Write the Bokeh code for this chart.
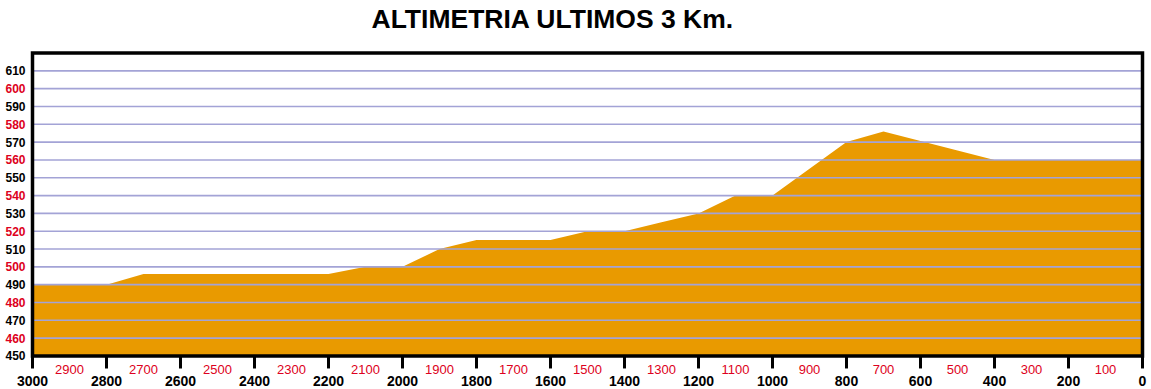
from bokeh.plotting import figure
from bokeh.models import Range1d
from bokeh.core.properties import value
from bokeh.embed import file_html
from bokeh.resources import INLINE

# distance to finish (m) and altitude (m)
dist = [3000, 2800, 2700, 2200, 2100, 2000, 1900, 1800, 1600, 1500, 1400, 1300, 1200, 1100, 1000, 800, 700, 400, 0]
alt = [490, 490, 496, 496, 500, 500, 510, 515, 515, 520, 520, 525, 530, 540, 540, 570, 576, 560, 560]

x_major_ticks = [3000, 2800, 2600, 2400, 2200, 2000, 1800, 1600, 1400, 1200, 1000, 800, 600, 400, 200, 0]
x_red_ticks = [2900, 2700, 2500, 2300, 2100, 1900, 1700, 1500, 1300, 1100, 900, 700, 500, 300, 100]
y_black_ticks = [450, 470, 490, 510, 530, 550, 570, 590, 610]
y_red_ticks = [460, 480, 500, 520, 540, 560, 580, 600]
y_grid_ticks = [460, 470, 480, 490, 500, 510, 520, 530, 540, 550, 560, 570, 580, 590, 600, 610]

TITLE = "ALTIMETRIA ULTIMOS 3 Km."
FONT = "Liberation Sans"
RED = "#dd0020"
ORANGE = "#E99A00"
GRID = "#a3a3d6"

X_MAX, X_MIN = 3000, 0
Y_MIN, Y_MAX = 450, 620

# --- layout (canvas pixels) ---
W, H = 1151, 389
FRAME_LEFT, FRAME_RIGHT = 0, W
FRAME_TOP, FRAME_BOTTOM = 39.5, H
CHART_L, CHART_R = 32.0, 1142.0
CHART_T, CHART_B = 53.0, 355.5

kx = (CHART_R - CHART_L) / (X_MAX - X_MIN)
ky = (CHART_B - CHART_T) / (Y_MAX - Y_MIN)
x_range = Range1d(X_MAX + (CHART_L - FRAME_LEFT) / kx, X_MIN - (FRAME_RIGHT - CHART_R) / kx)
y_range = Range1d(Y_MIN - (FRAME_BOTTOM - CHART_B) / ky, Y_MAX + (CHART_T - FRAME_TOP) / ky)

p = figure(width=W, height=H, output_backend="svg", toolbar_location=None,
           x_range=x_range, y_range=y_range,
           x_axis_location=None, y_axis_location=None,
           min_border_left=0, min_border_right=0, min_border_top=0, min_border_bottom=0)

p.title.text = TITLE
p.title.text_font = FONT
p.title.text_font_size = "26.5px"
p.title.text_font_style = "bold"
p.title.text_color = "black"
p.title.align = "left"
p.title.vertical_align = "top"
p.title.offset = 371
p.title.standoff = 7

p.xgrid.visible = False
p.ygrid.visible = False
p.outline_line_color = None
p.background_fill_color = "white"
p.border_fill_color = "white"

# filled profile
p.varea(x=dist, y1=[Y_MIN] * len(dist), y2=alt, fill_color=ORANGE)

# horizontal grid lines over the profile
p.segment(x0=[X_MAX] * len(y_grid_ticks), y0=y_grid_ticks,
          x1=[X_MIN] * len(y_grid_ticks), y1=y_grid_ticks,
          line_color=GRID, line_width=1.6)

# chart frame
p.quad(left=[X_MAX], right=[X_MIN], bottom=[Y_MIN], top=[Y_MAX],
       fill_color=None, line_color="black", line_width=3.5, line_join="miter")

# x tick marks at every 200 m
tick_len = 12.5 / ky
p.segment(x0=x_major_ticks, y0=[Y_MIN] * len(x_major_ticks),
          x1=x_major_ticks, y1=[Y_MIN - tick_len] * len(x_major_ticks),
          line_color="black", line_width=3)

# x labels
p.text(x=x_red_ticks, y=[Y_MIN] * len(x_red_ticks), text=[str(v) for v in x_red_ticks],
       y_offset=13.5, text_align="center", text_baseline="middle",
       text_font=value(FONT), text_font_size="13px", text_color=RED)
p.text(x=x_major_ticks, y=[Y_MIN] * len(x_major_ticks), text=[str(v) for v in x_major_ticks],
       y_offset=25.5, text_align="center", text_baseline="middle",
       text_font=value(FONT), text_font_size="14px", text_font_style="bold", text_color="black")

# y labels
p.text(x=[X_MAX] * len(y_black_ticks), y=y_black_ticks, text=[str(v) for v in y_black_ticks],
       x_offset=-7, text_align="right", text_baseline="middle",
       text_font=value(FONT), text_font_size="12px", text_font_style="bold", text_color="black")
p.text(x=[X_MAX] * len(y_red_ticks), y=y_red_ticks, text=[str(v) for v in y_red_ticks],
       x_offset=-7, text_align="right", text_baseline="middle",
       text_font=value(FONT), text_font_size="12px", text_font_style="bold", text_color=RED)

open("out.html", "w").write(file_html(p, INLINE))
